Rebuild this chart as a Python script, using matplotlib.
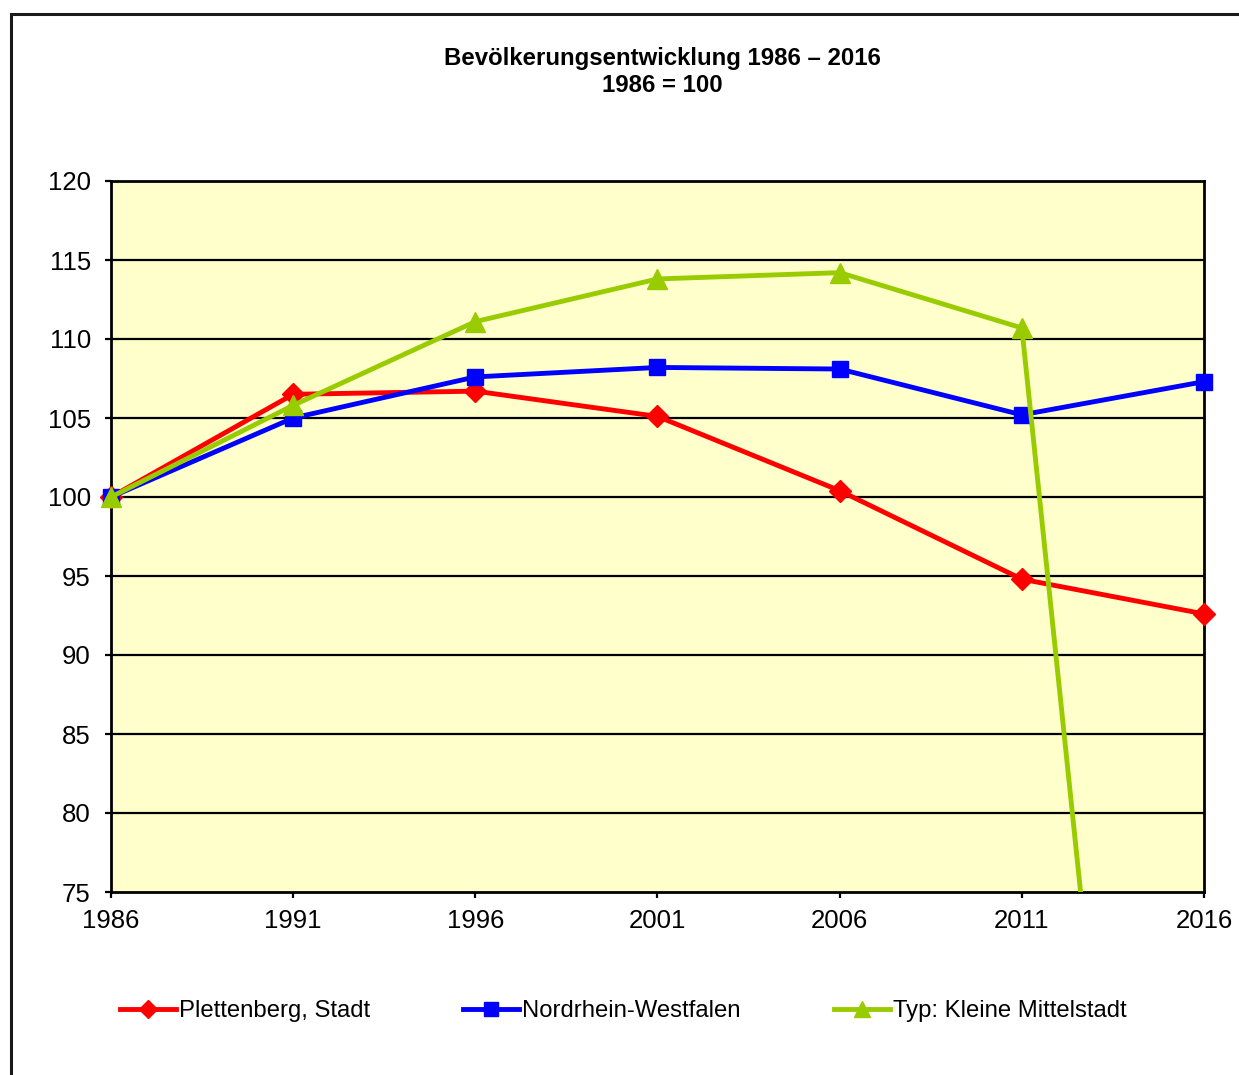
import matplotlib
matplotlib.use('Agg')
import matplotlib.pyplot as plt
from matplotlib.patches import Rectangle

plt.rcParams['font.family'] = ['Liberation Sans', 'DejaVu Sans']

years = [1986, 1991, 1996, 2001, 2006, 2011, 2016]
plettenberg = [100.0, 106.5, 106.7, 105.1, 100.4, 94.8, 92.6]
nrw = [100.0, 105.0, 107.6, 108.2, 108.1, 105.2, 107.3]
mittelstadt = [100.0, 105.8, 111.1, 113.8, 114.2, 110.7, 0.0]

names = ['Plettenberg, Stadt', 'Nordrhein-Westfalen', 'Typ: Kleine Mittelstadt']
colors = ['#FF0000', '#0000FF', '#99CC00']
markers = [('D', 11), ('s', 12), ('^', 14)]
yticks = [75, 80, 85, 90, 95, 100, 105, 110, 115, 120]
ymin, ymax = 75, 120

W, H = 1239, 1075
fig = plt.figure(figsize=(W / 100, H / 100), dpi=100)
ax = fig.add_axes([111 / W, 1 - 892 / H, (1204 - 111) / W, (892 - 181) / H])
ax.set_facecolor('#FFFFCC')

# Rahmen um das ganze Diagramm
fig.patches.append(Rectangle((11 / W, -0.2), 1.2, 1 - 14 / H + 0.2,
                             transform=fig.transFigure, fill=False,
                             ec='#1a1a1a', lw=2.2, clip_on=False))

for v in yticks[1:-1]:
    ax.axhline(v, color='black', lw=1.6, zorder=1)

for i, vals in enumerate([plettenberg, nrw, mittelstadt]):
    m, ms = markers[i]
    # Linie wird an der Achse abgeschnitten, die Marker am Rand nicht
    ax.plot(years, vals, color=colors[i], lw=3.5, zorder=3 + i)
    xs = [x for x, v in zip(years, vals) if ymin <= v <= ymax]
    ys = [v for v in vals if ymin <= v <= ymax]
    ax.plot(xs, ys, ls='none', marker=m, ms=ms, color=colors[i],
            clip_on=False, zorder=3 + i)
    ax.plot([], [], color=colors[i], lw=3.5, marker=m, ms=ms * 0.8,
            label=names[i])

ax.set_xlim(1986, 2016)
ax.set_ylim(ymin, ymax)
ax.set_xticks(years)
ax.set_yticks(yticks)
for s in ax.spines.values():
    s.set_linewidth(2)
    s.set_color('black')
ax.tick_params(axis='both', direction='out', length=4.5, width=1.6,
               labelsize=18.5, colors='black')
ax.tick_params(axis='x', pad=8)
ax.tick_params(axis='y', pad=10)

fig.text(662 / W, 1 - 58 / H, 'Bevölkerungsentwicklung 1986 – 2016',
         ha='center', va='center', fontsize=17.3, fontweight='bold')
fig.text(662 / W, 1 - 86 / H, '1986 = 100',
         ha='center', va='center', fontsize=17.3, fontweight='bold')

fig.legend(loc='center left', bbox_to_anchor=(120 / W, 1 - 1011 / H),
           ncol=3, frameon=False, fontsize=17.2, handlelength=2.35,
           handletextpad=0.12, columnspacing=3.9, borderaxespad=0,
           borderpad=0)

fig.savefig('out.png', dpi=100)
